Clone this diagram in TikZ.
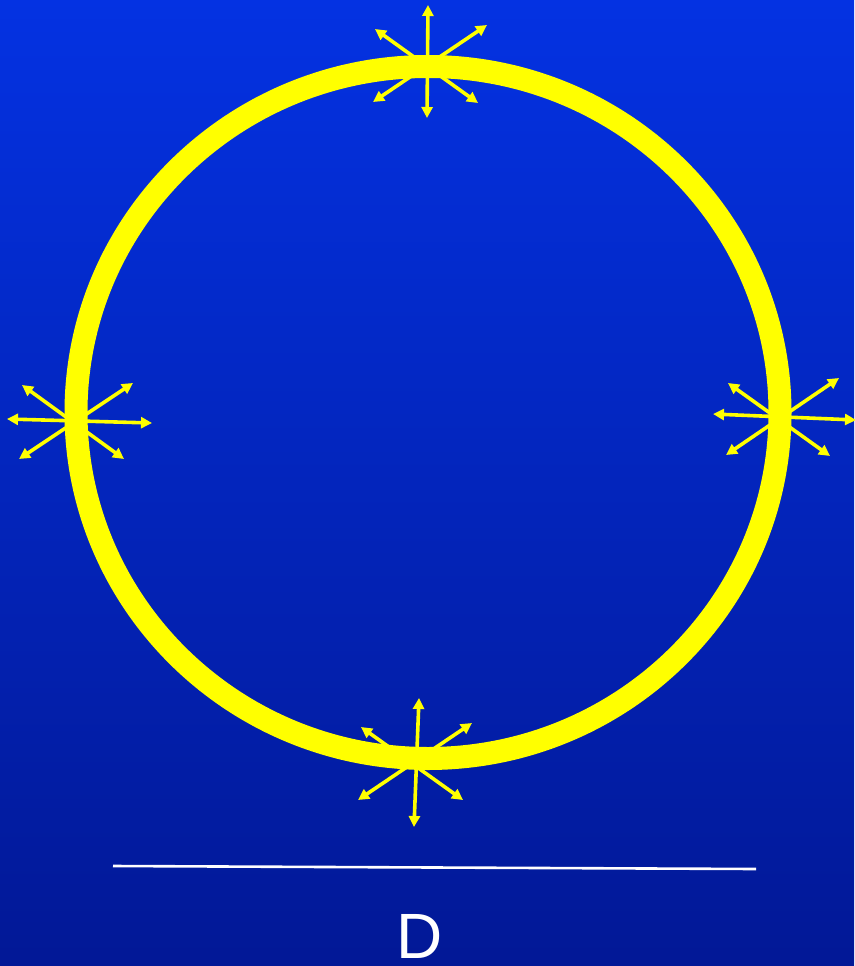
\documentclass[tikz,border=0pt]{standalone}
\usepackage{fontspec}
\setmainfont{Liberation Sans}
\usetikzlibrary{arrows.meta}
\definecolor{bgtop}{RGB}{4,50,226}
\definecolor{bgbot}{RGB}{2,24,150}
\definecolor{ring}{RGB}{255,255,0}
\tikzset{
  ray/.style={draw=ring, line width=3.6pt, {Triangle[length=11pt,width=11pt]}-{Triangle[length=11pt,width=11pt]}},
  ringline/.style={draw=ring, line width=23pt},
  baseline rule/.style={draw=white, line width=2.6pt}
}
\begin{document}
\begin{tikzpicture}[x=1pt,y=-1pt]
\useasboundingbox (0,0) rectangle (854,966);
\shade[top color=bgtop, bottom color=bgbot] (0,0) rectangle (854,966);
% ring
\draw[ringline] (428,412.5) ellipse [x radius=352, y radius=346];
% top burst
\coordinate (t1) at (428,5); \coordinate (t2) at (427,118);
\coordinate (t3) at (375,29); \coordinate (t4) at (478,103);
\coordinate (t5) at (487,25); \coordinate (t6) at (373,102);
\draw[ray] (t1) -- (t2);
\draw[ray] (t3) -- (t4);
\draw[ray] (t5) -- (t6);
% left burst
\coordinate (l1) at (7,419); \coordinate (l2) at (152,423);
\coordinate (l3) at (22,385); \coordinate (l4) at (124,459);
\coordinate (l5) at (133,383); \coordinate (l6) at (19,459);
\draw[ray] (l1) -- (l2);
\draw[ray] (l3) -- (l4);
\draw[ray] (l5) -- (l6);
% right burst
\coordinate (r1) at (713,414); \coordinate (r2) at (856,420);
\coordinate (r3) at (728,383); \coordinate (r4) at (830,456);
\coordinate (r5) at (839,378); \coordinate (r6) at (726,455);
\draw[ray] (r1) -- (r2);
\draw[ray] (r3) -- (r4);
\draw[ray] (r5) -- (r6);
% bottom burst
\coordinate (b1) at (419,698); \coordinate (b2) at (414,827);
\coordinate (b3) at (361,727); \coordinate (b4) at (463,800);
\coordinate (b5) at (472,723); \coordinate (b6) at (358,800);
\draw[ray] (b1) -- (b2);
\draw[ray] (b3) -- (b4);
\draw[ray] (b5) -- (b6);
% diameter line and label
\coordinate (dl) at (113,866); \coordinate (dr) at (756,869);
\draw[baseline rule] (dl) -- (dr);
\node[text=white, font=\fontsize{64}{70}\selectfont, inner sep=0pt] (dlabel) at (420,936) {D};
\end{tikzpicture}
\end{document}
